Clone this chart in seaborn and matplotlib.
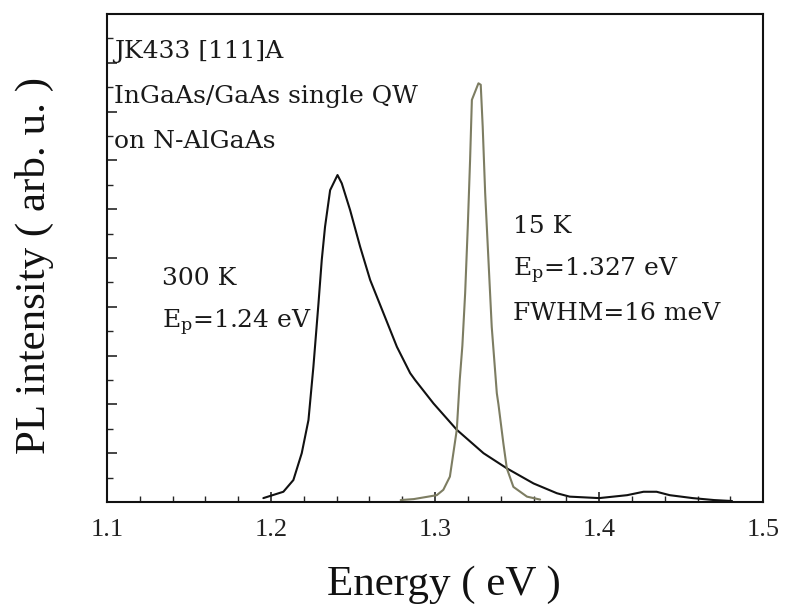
import pandas as pd
import matplotlib
matplotlib.use("Agg")
import matplotlib.pyplot as plt
from matplotlib.ticker import MultipleLocator
import seaborn as sns

# PL spectra (energy in eV, intensity in arb. u.)
e_300k = [1.1953, 1.2075, 1.2136, 1.2187, 1.2228, 1.2258, 1.2289, 1.2309, 1.2329, 1.2360,
          1.2405, 1.2431, 1.2482, 1.2543, 1.2604, 1.2685, 1.2767, 1.2848, 1.2878, 1.2990,
          1.3132, 1.3295, 1.3437, 1.3600, 1.3742, 1.3820, 1.4000, 1.4170, 1.4270, 1.4350,
          1.4430, 1.4570, 1.4700, 1.4810]
i_300k = [0.08, 0.21, 0.45, 1.00, 1.68, 2.77, 4.07, 4.96, 5.64, 6.39,
          6.70, 6.53, 5.98, 5.23, 4.55, 3.87, 3.18, 2.64, 2.50, 2.02,
          1.48, 1.00, 0.69, 0.38, 0.18, 0.11, 0.08, 0.14, 0.21, 0.21,
          0.14, 0.08, 0.04, 0.02]

e_15k = [1.279, 1.287, 1.301, 1.305, 1.309, 1.3132, 1.3150, 1.3166, 1.3183, 1.3199,
         1.3213, 1.3224, 1.3264, 1.3278, 1.3290, 1.3305, 1.3325, 1.3345, 1.3376, 1.3386,
         1.3416, 1.3437, 1.3477, 1.356, 1.364]
i_15k = [0.04, 0.06, 0.14, 0.25, 0.52, 1.48, 2.50, 3.20, 4.28, 5.64,
         7.00, 8.24, 8.58, 8.55, 7.69, 6.33, 4.96, 3.59, 2.23, 2.00,
         1.20, 0.69, 0.31, 0.11, 0.05]

x_ticks = [1.1, 1.2, 1.3, 1.4, 1.5]
x_tick_labels = ["1.1", "1.2", "1.3", "1.4", "1.5"]

df = pd.concat([
    pd.DataFrame({"energy": e_300k, "intensity": i_300k, "T": "300 K"}),
    pd.DataFrame({"energy": e_15k, "intensity": i_15k, "T": "15 K"}),
])

sns.set_style("ticks")
plt.rcParams["font.family"] = ["Liberation Serif", "DejaVu Serif"]
plt.rcParams["mathtext.fontset"] = "custom"
plt.rcParams["mathtext.rm"] = "DejaVu Serif"
plt.rcParams["mathtext.it"] = "DejaVu Serif"

fig = plt.figure(figsize=(7.85, 6.06), dpi=100)
ax = fig.add_axes([0.1363, 0.1716, 0.836, 0.8053])

sns.lineplot(data=df, x="energy", y="intensity", hue="T", sort=False,
             palette={"300 K": "#111111", "15 K": "#7d7d62"},
             linewidth=1.5, legend=False, ax=ax, estimator=None)

ax.set_xlim(1.1, 1.5)
ax.set_ylim(0, 10)
ax.set_xticks(x_ticks)
ax.set_xticklabels(x_tick_labels, fontsize=19, color="#222222")
ax.xaxis.set_minor_locator(MultipleLocator(0.02))
ax.yaxis.set_major_locator(MultipleLocator(1))
ax.yaxis.set_minor_locator(MultipleLocator(0.5))
ax.set_yticklabels([])
ax.tick_params(axis="both", which="major", direction="in", length=7, width=1.2, pad=12)
ax.tick_params(axis="both", which="minor", direction="in", length=4, width=1.0)
for s in ax.spines.values():
    s.set_visible(True)
    s.set_linewidth(1.5)
    s.set_color("#111111")

ax.set_xlabel("Energy ( eV )", fontsize=31, color="#111111")
ax.xaxis.set_label_coords(0.514, -0.131)
ax.set_ylabel("PL intensity ( arb. u. )", fontsize=31, color="#111111")
ax.yaxis.set_label_coords(-0.08, 0.484)

tc = "#1a1a1a"
fs = 18
tf = "DejaVu Serif"
ax.text(1.1045, 9.09, "JK433 [111]A", fontsize=fs, family=tf, color=tc, va="baseline")
ax.text(1.1045, 8.17, "InGaAs/GaAs single QW", fontsize=fs, family=tf, color=tc, va="baseline")
ax.text(1.1045, 7.25, "on N-AlGaAs", fontsize=fs, family=tf, color=tc, va="baseline")

ax.text(1.1335, 4.45, "300 K", fontsize=fs, family=tf, color=tc, va="baseline")
ax.text(1.1335, 3.56, r"E$_{\rm p}$=1.24 eV", fontsize=fs, family=tf, color=tc, va="baseline")

ax.text(1.3476, 5.51, "15 K", fontsize=fs, family=tf, color=tc, va="baseline")
ax.text(1.3476, 4.62, r"E$_{\rm p}$=1.327 eV", fontsize=fs, family=tf, color=tc, va="baseline")
ax.text(1.3476, 3.73, "FWHM=16 meV", fontsize=fs, family=tf, color=tc, va="baseline")

fig.savefig("out.png", dpi=100)
